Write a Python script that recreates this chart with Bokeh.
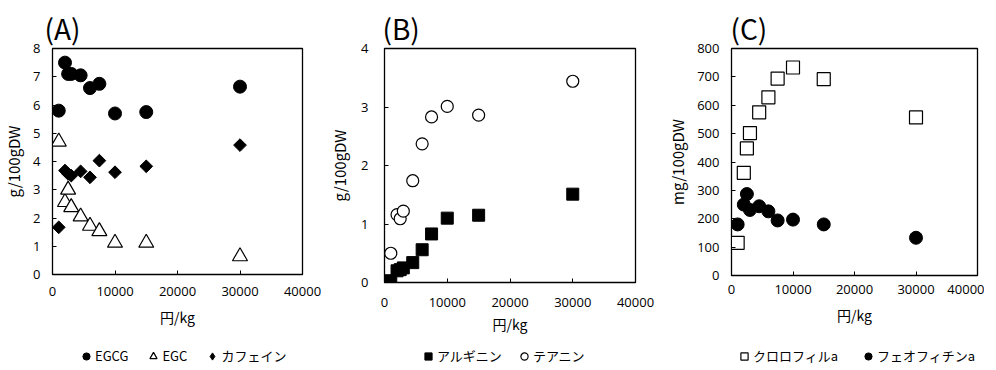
from bokeh.plotting import figure
from bokeh.layouts import row, column
from bokeh.models import ColumnDataSource, FixedTicker, Legend, LegendItem, Range1d
from bokeh.embed import file_html
from bokeh.resources import INLINE
import math

# ---- data ----
price = [1000, 2000, 2500, 3000, 4500, 6000, 7500, 10000, 15000, 30000]
egcg = [5.8, 7.5, 7.1, 7.1, 7.05, 6.6, 6.75, 5.7, 5.75, 6.65]
egc = [4.7, 2.56, 3.0, 2.38, 2.05, 1.72, 1.53, 1.12, 1.12, 0.64]
caffeine = [1.67, 3.68, 3.56, 3.5, 3.65, 3.44, 4.03, 3.62, 3.83, 4.58]
theanine = [0.5, 1.16, 1.09, 1.22, 1.74, 2.37, 2.83, 3.01, 2.86, 3.44]
arginine = [0.03, 0.2, 0.22, 0.25, 0.34, 0.56, 0.83, 1.1, 1.15, 1.51]
chlorophyll = [115, 362, 448, 502, 575, 628, 694, 733, 692, 557]
pheophytin = [180, 250, 287, 231, 244, 226, 194, 197, 180, 133]

x_ticks = [0, 10000, 20000, 30000, 40000]
yA_ticks = [0, 1, 2, 3, 4, 5, 6, 7, 8]
yB_ticks = [0, 1, 2, 3, 4]
yC_ticks = [0, 100, 200, 300, 400, 500, 600, 700, 800]

JP = "Noto Sans CJK JP"
NUM = "Open Sans"
MAIN_H = 346
LEG_H = 22

# marker styles per series
sty_egcg = dict(marker="circle", size=13, fill_color="black", line_color="black")
sty_egc = dict(marker="triangle", size=15, fill_color="white", line_color="black", line_width=1.2)
sty_caf = dict(marker="square", size=9, angle=math.pi / 4, fill_color="black", line_color="black")
sty_caf_leg = dict(marker="diamond", size=12, fill_color="black", line_color="black")
sty_arg = dict(marker="square", size=12, fill_color="black", line_color="black")
sty_thea = dict(marker="circle", size=12, fill_color="white", line_color="black", line_width=1.2)
sty_chl = dict(marker="square", size=13, fill_color="white", line_color="black", line_width=1.2)
sty_phe = dict(marker="circle", size=13, fill_color="black", line_color="black")


def make_fig(title, ylabel, ymax, yticks, fw, fh, bl, br, bt, title_off,
             ylab_standoff, ytick_standoff, xtick_standoff, xlab_standoff):
    p = figure(frame_width=fw, frame_height=fh, min_border_left=bl, min_border_right=br,
               min_border_top=bt, min_border_bottom=MAIN_H - bt - fh, output_backend="svg",
               toolbar_location=None, x_range=Range1d(0, 40000), y_range=Range1d(0, ymax))
    p.title.text = title
    p.title.text_font = JP
    p.title.text_font_size = "28px"
    p.title.text_font_style = "normal"
    p.title.text_color = "black"
    p.title.align = "left"
    p.title.offset = title_off
    p.title.standoff = 2
    p.xgrid.visible = False
    p.ygrid.visible = False
    p.outline_line_color = "black"
    p.outline_line_width = 1.3
    p.outline_line_alpha = 1
    p.xaxis.ticker = FixedTicker(ticks=x_ticks)
    p.yaxis.ticker = FixedTicker(ticks=yticks)
    for ax in (p.xaxis, p.yaxis):
        ax.major_tick_in = 4
        ax.major_tick_out = 0
        ax.minor_tick_in = 0
        ax.minor_tick_out = 0
        ax.axis_line_color = "black"
        ax.major_tick_line_color = "black"
        ax.major_label_text_font = NUM
        ax.major_label_text_font_size = "13px"
        ax.major_label_text_color = "black"
        ax.axis_label_text_font = JP
        ax.axis_label_text_font_style = "normal"
        ax.axis_label_text_color = "black"
    p.xaxis.axis_label = "円/kg"
    p.xaxis.axis_label_text_font_size = "14px"
    p.yaxis.axis_label = ylabel
    p.yaxis.axis_label_text_font_size = "15px"
    p.yaxis.axis_label_standoff = ylab_standoff
    p.yaxis.major_label_standoff = ytick_standoff
    p.xaxis.major_label_standoff = xtick_standoff
    p.xaxis.axis_label_standoff = xlab_standoff
    return p


def legend_fig(width, entries, vx, spacing):
    # the series are re-plotted here outside the visible range; only their legend shows
    lf = figure(width=width, height=LEG_H, min_border=0, output_backend="svg",
                toolbar_location=None, x_axis_location=None, y_axis_location=None,
                x_range=Range1d(-2, -1), y_range=Range1d(-2, -1))
    lf.xgrid.visible = False
    lf.ygrid.visible = False
    lf.outline_line_color = None
    items = []
    for label, src, col, sty in entries:
        r = lf.scatter("x", col, source=src, **sty)
        items.append(LegendItem(label=label, renderers=[r]))
    leg = Legend(items=items, orientation="horizontal", location=(vx, 3), padding=0, margin=0,
                 spacing=spacing, glyph_width=18, glyph_height=18, label_height=18,
                 label_standoff=0, border_line_alpha=0, background_fill_alpha=0,
                 label_text_font=JP, label_text_font_size="13px",
                 label_text_color="black")
    lf.add_layout(leg)
    return lf


# ---- panel A ----
pA = make_fig("(A)", "g/100gDW", 8, yA_ticks, 250, 226, 48, 22, 48, -8, 6, 12, 12, 8)
srcA = ColumnDataSource(dict(x=price, egcg=egcg, egc=egc, caf=caffeine))
pA.scatter("x", "egcg", source=srcA, **sty_egcg)
pA.scatter("x", "egc", source=srcA, **sty_egc)
pA.scatter("x", "caf", source=srcA, **sty_caf)
lA = legend_fig(320, [("EGCG", srcA, "egcg", sty_egcg), ("EGC", srcA, "egc", sty_egc),
                      ("カフェイン", srcA, "caf", sty_caf_leg)], 77, 16)

# ---- panel B ----
pB = make_fig("(B)", "g/100gDW", 4, yB_ticks, 251, 234, 60, 24, 48, -2, 8, 16, 15, 4)
srcB = ColumnDataSource(dict(x=price, arg=arginine, thea=theanine))
pB.scatter("x", "arg", source=srcB, **sty_arg)
pB.scatter("x", "thea", source=srcB, **sty_thea)
lB = legend_fig(335, [("アルギニン", srcB, "arg", sty_arg), ("テアニン", srcB, "thea", sty_thea)], 99, 13)

# ---- panel C ----
pC = make_fig("(C)", "mg/100gDW", 800, yC_ticks, 246, 227, 72, 7, 48, -1, 6, 12, 9, 8)
srcC = ColumnDataSource(dict(x=price, chl=chlorophyll, phe=pheophytin))
pC.scatter("x", "chl", source=srcC, **sty_chl)
pC.scatter("x", "phe", source=srcC, **sty_phe)
lC = legend_fig(325, [("クロロフィルa", srcC, "chl", sty_chl), ("フェオフィチンa", srcC, "phe", sty_phe)], 80, 21)

layout = column(row(pA, pB, pC, spacing=0), row(lA, lB, lC, spacing=0), spacing=0)
open("out.html", "w").write(file_html(layout, INLINE))
